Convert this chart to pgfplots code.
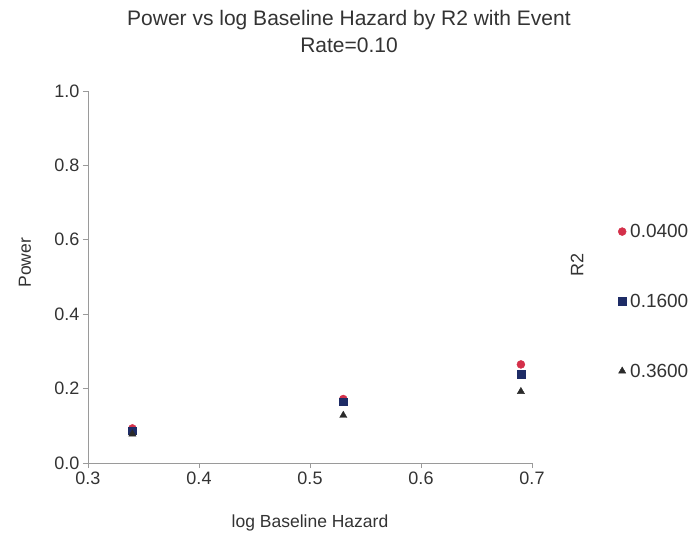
\documentclass[border=0pt]{standalone}
\usepackage{pgfplots}
\pgfplotsset{compat=1.18}
\usepackage{fontspec}
\setmainfont{Liberation Sans}
\definecolor{cred}{HTML}{D4304A}
\definecolor{cnavy}{HTML}{1E2C66}
\definecolor{ctri}{HTML}{2A2A2A}
\definecolor{axgray}{HTML}{9A9A9A}
\definecolor{txt}{HTML}{333333}
\begin{document}
\begin{tikzpicture}[x=1pt,y=1pt]
\path[use as bounding box] (-88,-78) rectangle (610,463);
\begin{axis}[
  at={(0,0)}, anchor=origin,
  scale only axis, width=444pt, height=372pt,
  xmin=0.3, xmax=0.7, ymin=0, ymax=1,
  axis x line*=bottom, axis y line*=left,
  axis line style={axgray, line width=0.8pt},
  every tick/.style={axgray, line width=0.8pt},
  tick align=outside, major tick length=5pt,
  xtick={0.3,0.4,0.5,0.6,0.7},
  ytick={0,0.2,0.4,0.6,0.8,1.0},
  xticklabel style={/pgf/number format/.cd, fixed, fixed zerofill, precision=1},
  yticklabel style={/pgf/number format/.cd, fixed, fixed zerofill, precision=1},
  /pgf/number format/assume math mode=true,
  tick label style={font=\fontsize{18}{20}\selectfont, text=txt},
  xlabel={log Baseline Hazard}, ylabel={Power},
  label style={font=\fontsize{17.5}{20}\selectfont, text=txt},
  xlabel style={at={(axis description cs:0.5,-0.162)}, anchor=center},
  ylabel style={at={(axis description cs:-0.142,0.538)}, anchor=center, rotate=0},
  clip=false,
  legend style={at={(527pt,232pt)}, anchor=north west, draw=none, fill=none,
    font=\fontsize{19}{21}\selectfont, text=txt, row sep=51pt,
    legend cell align=left, yshift=11pt,
    nodes={inner xsep=4pt}},
  legend image code/.code={\draw[#1] plot coordinates {(0.3em,0em)};},
]
\addplot[only marks, mark=*, mark size=4pt, draw=cred, fill=cred] coordinates {
 (0.34,0.093) (0.53,0.172) (0.69,0.265)};
\addlegendentry{0.0400}
\addplot[only marks, mark=square*, mark size=3.8pt, draw=cnavy, fill=cnavy] coordinates {
 (0.34,0.087) (0.53,0.165) (0.69,0.238)};
\addlegendentry{0.1600}
\addplot[only marks, mark=triangle*, mark size=4.2pt, draw=ctri, fill=ctri] coordinates {
 (0.34,0.078) (0.53,0.128) (0.69,0.192)};
\addlegendentry{0.3600}
\end{axis}
\node[rotate=90, font=\fontsize{18}{20}\selectfont, text=txt] at (489,198) {R2};
\node[font=\fontsize{21}{23}\selectfont, text=txt] at (261,443) {Power vs log Baseline Hazard by R2 with Event};
\node[font=\fontsize{21}{23}\selectfont, text=txt] at (261,418) {Rate=0.10};
\end{tikzpicture}
\end{document}
